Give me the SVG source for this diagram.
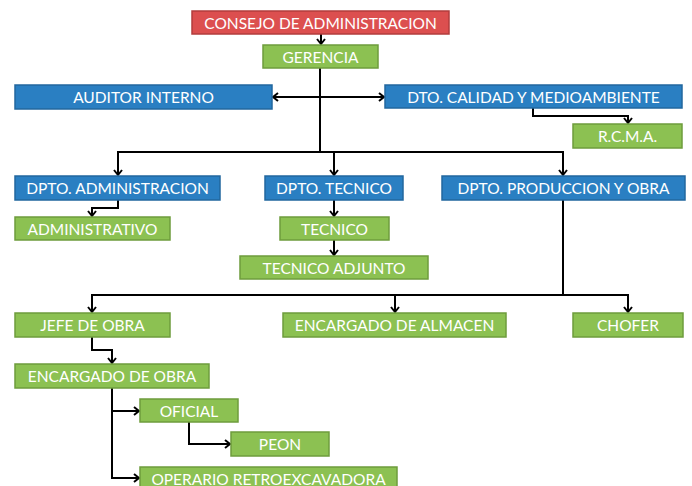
<svg xmlns="http://www.w3.org/2000/svg" width="692" height="486" viewBox="0 0 692 486">
<style>
.r{fill:#dc4f4f;stroke:#b23c3c;stroke-width:1.5}
.b{fill:#2a7fc2;stroke:#22679e;stroke-width:1.5}
.g{fill:#8cc152;stroke:#6e9c3c;stroke-width:1.5}
text{fill:#fff;font-family:Lato,"Liberation Sans",sans-serif;font-size:15.5px;text-anchor:middle;dominant-baseline:central}
.c path{fill:none;stroke:#000;stroke-width:2}
</style>
<defs>
<marker id="ar" markerUnits="userSpaceOnUse" markerWidth="10" markerHeight="10" refX="6" refY="4" orient="auto" overflow="visible">
<path d="M1,0 L6,4 L1,8" fill="none" stroke="#000" stroke-width="2"/>
</marker>
</defs>
<g class="c">
<path d="M321,34 V44" marker-end="url(#ar)"/>
<path d="M320,68 V153"/>
<path d="M320,97 H273" marker-end="url(#ar)"/>
<path d="M320,97 H384" marker-end="url(#ar)"/>
<path d="M533,108 V116 H628 V123" marker-end="url(#ar)"/>
<path d="M118,175 V152 H563 V175" marker-end="url(#ar)"/>
<path d="M118,152 V175" marker-end="url(#ar)"/>
<path d="M334,152 V175" marker-end="url(#ar)"/>
<path d="M118,200 V208 H92 V216" marker-end="url(#ar)"/>
<path d="M334,200 V216" marker-end="url(#ar)"/>
<path d="M334,240 V255" marker-end="url(#ar)"/>
<path d="M563,200 V295"/>
<path d="M92,312 V295 H628 V312" marker-end="url(#ar)"/>
<path d="M92,295 V312" marker-end="url(#ar)"/>
<path d="M395,295 V312" marker-end="url(#ar)"/>
<path d="M92,337 V350 H112 V363" marker-end="url(#ar)"/>
<path d="M112,388 V478 H139" marker-end="url(#ar)"/>
<path d="M112,411 H139" marker-end="url(#ar)"/>
<path d="M189,422 V444 H230" marker-end="url(#ar)"/>
</g>
<g id="consejo"><rect class="r" x="192" y="11" width="257" height="23"/><text x="320.5" y="22.5">CONSEJO DE ADMINISTRACION</text></g>
<g id="gerencia"><rect class="g" x="263" y="45" width="115" height="23"/><text x="320.5" y="56.5">GERENCIA</text></g>
<g id="auditor"><rect class="b" x="15" y="85" width="257" height="24"/><text x="143.5" y="97">AUDITOR INTERNO</text></g>
<g id="calidad"><rect class="b" x="385" y="85" width="297" height="23"/><text x="533.5" y="96.5">DTO. CALIDAD Y MEDIOAMBIENTE</text></g>
<g id="rcma"><rect class="g" x="573" y="124" width="109" height="24"/><text x="627.5" y="136">R.C.M.A.</text></g>
<g id="dpto-admin"><rect class="b" x="15" y="176" width="205" height="24"/><text x="117.5" y="188">DPTO. ADMINISTRACION</text></g>
<g id="administrativo"><rect class="g" x="15" y="217" width="155" height="23"/><text x="92.5" y="228.5">ADMINISTRATIVO</text></g>
<g id="dpto-tecnico"><rect class="b" x="265" y="176" width="138" height="24"/><text x="334" y="188">DPTO. TECNICO</text></g>
<g id="tecnico"><rect class="g" x="280" y="217" width="109" height="23"/><text x="334.5" y="228.5">TECNICO</text></g>
<g id="tecnico-adjunto"><rect class="g" x="240" y="256" width="188" height="23"/><text x="334" y="267.5">TECNICO ADJUNTO</text></g>
<g id="dpto-produccion"><rect class="b" x="442" y="176" width="243" height="24"/><text x="563.5" y="188">DPTO. PRODUCCION Y OBRA</text></g>
<g id="jefe-obra"><rect class="g" x="15" y="313" width="155" height="24"/><text x="92.5" y="325">JEFE DE OBRA</text></g>
<g id="almacen"><rect class="g" x="283" y="313" width="223" height="24"/><text x="394.5" y="325">ENCARGADO DE ALMACEN</text></g>
<g id="chofer"><rect class="g" x="573" y="313" width="110" height="24"/><text x="628" y="325">CHOFER</text></g>
<g id="encargado-obra"><rect class="g" x="15" y="364" width="194" height="24"/><text x="112" y="376">ENCARGADO DE OBRA</text></g>
<g id="oficial"><rect class="g" x="140" y="399" width="98" height="23"/><text x="189" y="410.5">OFICIAL</text></g>
<g id="peon"><rect class="g" x="231" y="432" width="98" height="24"/><text x="280" y="444">PEON</text></g>
<g id="operario"><rect class="g" x="140" y="467" width="257" height="24"/><text x="268.5" y="479">OPERARIO RETROEXCAVADORA</text></g>
</svg>
